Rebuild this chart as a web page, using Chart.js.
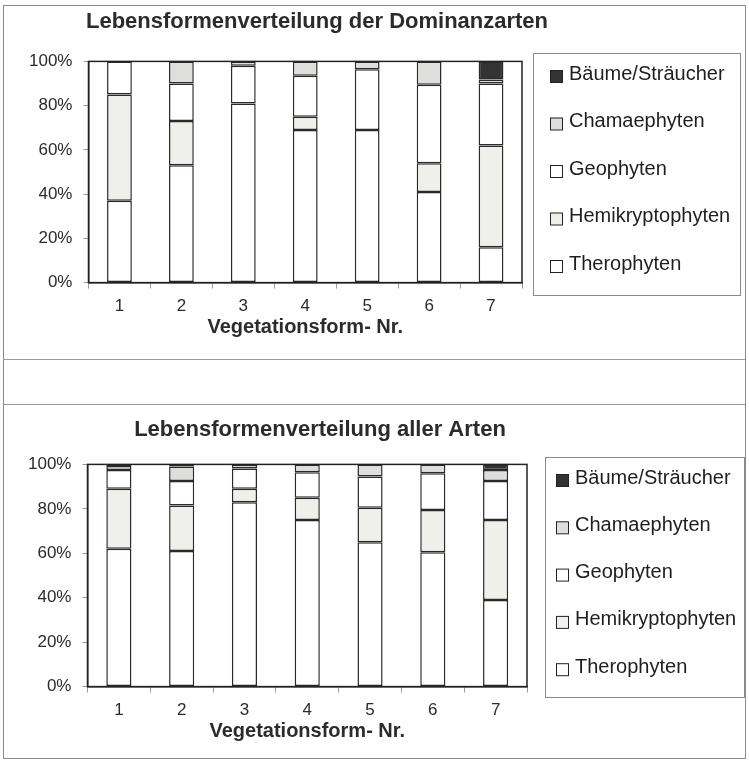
<!DOCTYPE html>
<html>
<head>
<meta charset="utf-8">
<script src="https://cdn.jsdelivr.net/npm/chart.js@4.4.1/dist/chart.umd.min.js"></script>
<style>
  html, body { margin: 0; padding: 0; background: #fff; }
  body { width: 749px; height: 761px; position: relative; overflow: hidden; }
  .frame { position: absolute; left: 3px; top: 5px; width: 741px; height: 752px; border: 1px solid #8a8a8a; }
  .sep { position: absolute; left: 3px; width: 742px; height: 0; border-top: 1px solid #9a9a9a; }
  canvas { position: absolute; left: 0; }
  #c1 { top: 0; }
  #c2 { top: 404px; }
</style>
</head>
<body>
<div class="frame"></div>
<div class="sep" style="top:359px"></div>
<div class="sep" style="top:404px"></div>
<canvas id="c1" width="749" height="359"></canvas>
<canvas id="c2" width="749" height="357"></canvas>
<script>
// ---- data ----
const categories = ['1', '2', '3', '4', '5', '6', '7'];
const seriesNames = ['Therophyten', 'Hemikryptophyten', 'Geophyten', 'Chamaephyten', 'Bäume/Sträucher'];
const yTickLabels = ['0%', '20%', '40%', '60%', '80%', '100%'];
const titleTop = 'Lebensformenverteilung der Dominanzarten';
const titleBottom = 'Lebensformenverteilung aller Arten';
const xAxisTitle = 'Vegetationsform- Nr.';

// Dominanzarten (percent)
const domTherophyten      = [37, 53, 81, 69, 69, 41, 16];
const domHemikryptophyten = [48, 20, 0, 6, 0, 13, 46];
const domGeophyten        = [15, 17, 17, 18.5, 27.5, 35.5, 28];
const domChamaephyten     = [0, 10, 2, 6.5, 3.5, 10.5, 1.8];
const domBaeume           = [0, 0, 0, 0, 0, 0, 8.2];

// alle Arten (percent)
const allTherophyten      = [62, 61, 83, 75, 65, 60.5, 39];
const allHemikryptophyten = [27, 20.5, 6, 10, 15.5, 19, 36];
const allGeophyten        = [8.5, 11, 9.2, 11.5, 14, 16.5, 17.5];
const allChamaephyten     = [1.8, 6.5, 1.8, 3.5, 5.5, 4, 5];
const allBaeume           = [0.7, 1, 0, 0, 0, 0, 2.5];

// ---- styles ----
const FONT = '"Liberation Sans", Arial, Helvetica, sans-serif';
const fills = ['#ffffff', '#efefec', '#ffffff', '#dededc', '#333333'];
const edge = '#2a2a2a';

// plot frame, boxed legend (built from the datasets) and title offset
const excelLook = {
  id: 'excelLook',
  afterLayout(chart, args, opts) {
    const tb = chart.titleBlock;
    if (tb && opts.titleShift) { tb.left += opts.titleShift; tb.right += opts.titleShift; }
  },
  afterDraw(chart, args, opts) {
    const ctx = chart.ctx;
    const a = chart.chartArea;
    ctx.save();
    ctx.strokeStyle = '#222';
    ctx.lineWidth = 1.5;
    ctx.strokeRect(a.left, a.top, a.right - a.left, a.bottom - a.top);

    const lg = opts.legend;
    const b = lg.box;
    ctx.strokeStyle = '#8a8a8a';
    ctx.lineWidth = 1;
    ctx.strokeRect(b.l + 0.5, b.t + 0.5, b.r - b.l, b.b - b.t);

    const ds = chart.data.datasets.slice().reverse();
    ctx.font = '20px ' + FONT;
    ctx.textBaseline = 'middle';
    ctx.textAlign = 'left';
    ds.forEach((d, i) => {
      const y = lg.firstY + i * lg.step;
      ctx.fillStyle = d.backgroundColor;
      ctx.fillRect(lg.markerX, y - 4, 12, 12);
      ctx.strokeStyle = '#222';
      ctx.lineWidth = 1;
      ctx.strokeRect(lg.markerX + 0.5, y - 4 + 0.5, 12, 12);
      ctx.fillStyle = '#1e1e1e';
      ctx.fillText(d.label, lg.textX, y);
    });
    ctx.restore();
  }
};

function makeDatasets(arrs) {
  return arrs.map((d, i) => ({
    label: seriesNames[i],
    data: d,
    backgroundColor: fills[i],
    borderColor: edge,
    borderWidth: 1.5,
    borderSkipped: false,
    barPercentage: 0.4,
    categoryPercentage: 1.0
  }));
}

function makeChart(id, title, arrs, cfg) {
  return new Chart(document.getElementById(id), {
    type: 'bar',
    data: { labels: categories, datasets: makeDatasets(arrs) },
    plugins: [excelLook],
    options: {
      responsive: false,
      animation: false,
      layout: { padding: cfg.padding },
      plugins: {
        title: {
          display: true, text: title, color: '#2b2b2b',
          font: { family: FONT, size: 22, weight: 'bold' },
          padding: cfg.titlePad
        },
        legend: { display: false },
        tooltip: { enabled: false },
        excelLook: { titleShift: cfg.titleShift, legend: cfg.legend }
      },
      scales: {
        x: {
          stacked: true,
          grid: { display: true, offset: true, drawOnChartArea: false, tickLength: 6, color: '#9a9a9a' },
          border: { display: true, color: '#222', width: 1.5 },
          ticks: { color: '#2b2b2b', font: { family: FONT, size: 17 }, padding: 8, maxRotation: 0 },
          title: { display: true, text: xAxisTitle, color: '#2b2b2b', font: { family: FONT, size: 20, weight: 'bold' }, padding: { top: -10, bottom: 0 } }
        },
        y: {
          stacked: true, min: 0, max: 100,
          grid: { display: true, drawOnChartArea: false, tickLength: 5, color: '#9a9a9a' },
          border: { display: true, color: '#222', width: 1.5 },
          ticks: {
            stepSize: 20, color: '#2b2b2b', font: { family: FONT, size: 17 }, padding: 11,
            callback: (v) => yTickLabels[Math.round(v / 20)]
          }
        }
      }
    }
  });
}

makeChart('c1', titleTop,
  [domTherophyten, domHemikryptophyten, domGeophyten, domChamaephyten, domBaeume],
  { padding: { left: 18, right: 227, top: 0, bottom: 20 },
    titlePad: { top: 9, bottom: 26 },
    titleShift: 47,
    legend: { markerX: 550, textX: 569, firstY: 74, step: 47.5, box: { l: 533, t: 53, r: 740, b: 295 } } });

makeChart('c2', titleBottom,
  [allTherophyten, allHemikryptophyten, allGeophyten, allChamaephyten, allBaeume],
  { padding: { left: 17, right: 222, top: 0, bottom: 18 },
    titlePad: { top: 13, bottom: 21 },
    titleShift: 48,
    legend: { markerX: 556, textX: 575, firstY: 74, step: 47.3, box: { l: 545, t: 53, r: 744, b: 293 } } });
</script>
</body>
</html>
